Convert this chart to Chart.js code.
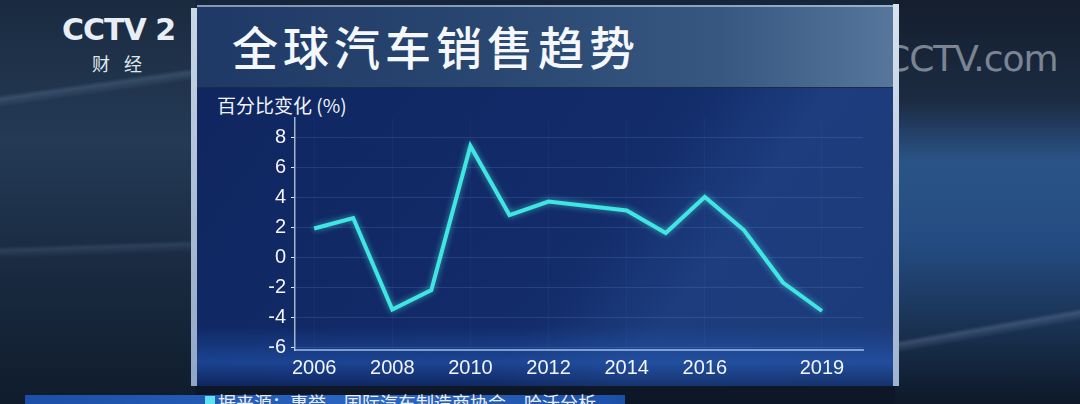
<!DOCTYPE html>
<html>
<head>
<meta charset="utf-8">
<script src="https://cdn.jsdelivr.net/npm/chart.js@4/dist/chart.umd.min.js"></script>
<style>
  html, body { margin: 0; padding: 0; }
  body {
    width: 1080px; height: 404px; overflow: hidden; position: relative;
    background: linear-gradient(180deg, #16263a 0%, #1c3048 30%, #142238 60%, #0c1626 100%);
    font-family: "Noto Sans CJK SC", "Noto Sans", sans-serif;
  }
  .studio-left {
    position: absolute; left: 0; top: 0; width: 195px; height: 404px;
    background:
      linear-gradient(172deg, rgba(0,0,0,0) 0%, rgba(0,0,0,0) 22%, rgba(120,150,180,0.25) 23%, rgba(0,0,0,0) 25%),
      linear-gradient(178deg, rgba(0,0,0,0) 60%, rgba(110,140,170,0.2) 61%, rgba(0,0,0,0) 63%),
      linear-gradient(180deg, #1a2b40 0%, #243a55 35%, #1b2d45 60%, #101c2c 100%);
  }
  .studio-right {
    position: absolute; left: 895px; top: 0; width: 185px; height: 404px;
    background:
      linear-gradient(170deg, rgba(0,0,0,0) 78%, rgba(150,170,200,0.25) 79%, rgba(0,0,0,0) 81%),
      linear-gradient(180deg, #141e2e 0%, #1c2b42 25%, #2a5488 40%, #244c82 60%, #1a3354 80%, #0e1828 100%);
  }
  .logo1 { position: absolute; left: 62px; top: 12px; color: #e8eef5; font: bold 30px "DejaVu Sans", sans-serif; letter-spacing: -1px; }
  .logo2 { position: absolute; left: 92px; top: 50px; color: #dfe6ee; font: 18px "Noto Sans CJK SC"; letter-spacing: 14px; }
  .logo3 { position: absolute; left: 885px; top: 38px; color: rgba(220,228,238,0.5); font: 36px "DejaVu Sans", sans-serif; letter-spacing: -1px; }
  .titlebar {
    position: absolute; left: 197px; top: 5px; width: 696px; height: 80px;
    background: linear-gradient(90deg, #1f3966 0%, #28466f 40%, #375781 75%, #56769c 100%);
    border-top: 2px solid rgba(200,215,235,0.6);
  }
  .title {
    position: absolute; left: 232px; top: 12px; color: #f4f7fb;
    font: 500 46px "Noto Sans CJK SC"; letter-spacing: 5px;
  }
  .panel {
    position: absolute; left: 197px; top: 88px; width: 696px; height: 298px;
    background:
      linear-gradient(180deg, rgba(0,0,0,0) 80%, rgba(40,100,200,0.45) 92%, rgba(10,30,80,0.3) 100%),
      linear-gradient(125deg, #0f2660 0%, #132c6a 55%, #1d3d7e 70%, #1b3a78 100%);
  }
  .barL { position: absolute; left: 191px; top: 8px; width: 6px; height: 378px; background: linear-gradient(180deg, #c9d6e6, #8fa6c4); }
  .barR { position: absolute; left: 893px; top: 4px; width: 6px; height: 382px; background: linear-gradient(180deg, #d9e3ef, #9fb4cf); }
  .ytitle { position: absolute; left: 217px; top: 91px; color: #f0f4f8; font: 19px "Noto Sans CJK SC"; }
  .source {
    position: absolute; left: 25px; top: 395px; width: 600px; height: 12px;
    background: linear-gradient(90deg, #1c4fa8 0%, #2a66c0 60%, #1c4fa8 100%);
  }
  .srcsq { position: absolute; left: 205px; top: 396px; width: 10px; height: 10px; background: #5fe3f0; }
  .srctext { position: absolute; left: 218px; top: 389px; color: #e9eef6; font: 18px "Noto Sans CJK SC"; white-space: nowrap; }
  #wrap { position: absolute; left: 200px; top: 90px; width: 690px; height: 295px; }
</style>
</head>
<body>
<div class="studio-left"></div>
<div class="studio-right"></div>
<div class="logo1">CCTV 2</div>
<div class="logo2">财经</div>
<div class="logo3">CCTV.com</div>
<div class="titlebar"></div>
<div class="title">全球汽车销售趋势</div>
<div class="panel"></div>
<div class="barL"></div>
<div class="barR"></div>
<div class="ytitle">百分比变化 (%)</div>
<div class="source"></div>
<div class="srcsq"></div>
<div class="srctext">据来源：惠誉、国际汽车制造商协会、哈沃分析</div>
<div id="wrap"><canvas id="myChart"></canvas></div>

<script>
// values
let years = [2006, 2007, 2008, 2009, 2010, 2011, 2012, 2013, 2014, 2015, 2016, 2017, 2018, 2019]
let salesChange = [1.9, 2.6, -3.5, -2.2, 7.4, 2.8, 3.7, 3.4, 3.1, 1.6, 4.0, 1.8, -1.7, -3.6]
let xTickYears = [2006, 2008, 2010, 2012, 2014, 2016, 2019]
let yTickValues = [-6, -4, -2, 0, 2, 4, 6, 8]

let points = []
for (let i = 0; i < years.length; i++) {
  points.push({ x: years[i], y: salesChange[i] })
}

// soft glow on the line
const glow = {
  id: 'glow',
  beforeDatasetDraw(chart) {
    chart.ctx.save()
    chart.ctx.shadowColor = 'rgba(80,240,240,0.6)'
    chart.ctx.shadowBlur = 6
  },
  afterDatasetDraw(chart) {
    chart.ctx.restore()
  }
}

const config = {
  type: 'line',
  data: {
    datasets: [{
      data: points,
      borderColor: '#3fe6e2',
      borderWidth: 4,
      pointRadius: 0,
      tension: 0,
      borderJoinStyle: 'miter'
    }]
  },
  options: {
    responsive: true,
    maintainAspectRatio: false,
    animation: false,
    layout: { padding: { left: 0, right: 27, top: 28, bottom: 0 } },
    plugins: { legend: { display: false }, tooltip: { enabled: false } },
    scales: {
      x: {
        type: 'linear',
        min: 2005.51,
        max: 2020.05,
        afterBuildTicks: (scale) => { scale.ticks = xTickYears.map(v => ({ value: v })) },
        afterFit: (scale) => { scale.height = 35 },
        grid: { display: true, drawTicks: false, color: 'rgba(120,160,225,0.06)' },
        border: { color: 'rgba(170,200,240,0.7)', width: 2 },
        ticks: {
          color: '#f2f5f9',
          padding: 6,
          maxRotation: 0,
          autoSkip: false,
          font: { family: 'Liberation Sans', size: 20 },
          callback: (v) => String(v)
        }
      },
      y: {
        min: -6.2,
        max: 9.27,
        afterBuildTicks: (scale) => { scale.ticks = yTickValues.map(v => ({ value: v })) },
        afterFit: (scale) => { scale.width = 95 },
        grid: { color: 'rgba(120,160,225,0.18)', tickColor: '#dfe7f2', tickLength: 4 },
        border: { color: 'rgba(200,215,235,0.8)', width: 1.5 },
        ticks: {
          color: '#f2f5f9',
          padding: 5,
          font: { family: 'Liberation Sans', size: 20 }
        }
      }
    }
  },
  plugins: [glow]
}

const myChart = new Chart(document.getElementById('myChart'), config)
</script>
</body>
</html>
